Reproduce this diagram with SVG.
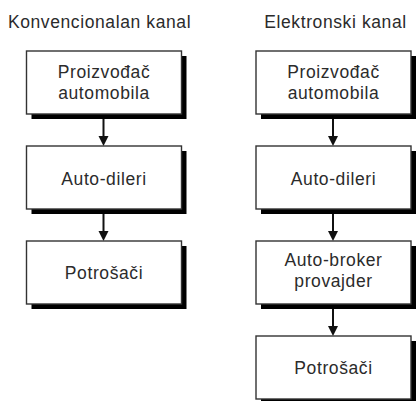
<svg xmlns="http://www.w3.org/2000/svg" width="416" height="401" viewBox="0 0 416 401">
<defs>
<style>
.shadow{fill:#000}
.box{fill:#fff;stroke:#333;stroke-width:1.4}
.lbl{font-family:"Liberation Sans",Arial,sans-serif;font-size:17.5px;fill:#2b2b2b;text-anchor:middle;letter-spacing:0.6px}
.conn{stroke:#111;stroke-width:2;fill:none}
.head{fill:#111}
</style>
</defs>
<rect width="416" height="401" fill="#fff"/>
<text class="lbl" x="99.5" y="28">Konvencionalan kanal</text>
<text class="lbl" x="335.5" y="28">Elektronski kanal</text>

<g id="connectors">
<line class="conn" x1="103.5" y1="115" x2="103.5" y2="136"/>
<polygon class="head" points="98.5,136 108.5,136 103.5,146"/>
<line class="conn" x1="103.5" y1="210" x2="103.5" y2="231"/>
<polygon class="head" points="98.5,231 108.5,231 103.5,241"/>
<line class="conn" x1="333" y1="115" x2="333" y2="136"/>
<polygon class="head" points="328,136 338,136 333,146"/>
<line class="conn" x1="333" y1="210" x2="333" y2="231"/>
<polygon class="head" points="328,231 338,231 333,241"/>
<line class="conn" x1="333" y1="305" x2="333" y2="326"/>
<polygon class="head" points="328,326 338,326 333,336"/>
</g>

<g id="l1">
<rect class="shadow" x="31.5" y="56" width="155" height="63"/>
<rect class="box" x="26.5" y="51" width="155" height="63"/>
<text class="lbl" x="104" y="78.3">Proizvođač</text>
<text class="lbl" x="104" y="99">automobila</text>
</g>
<g id="l2">
<rect class="shadow" x="31.5" y="151" width="155" height="63"/>
<rect class="box" x="26.5" y="146" width="155" height="63"/>
<text class="lbl" x="104" y="184.5">Auto-dileri</text>
</g>
<g id="l3">
<rect class="shadow" x="31.5" y="246" width="155" height="63"/>
<rect class="box" x="26.5" y="241" width="155" height="63"/>
<text class="lbl" x="104" y="279">Potrošači</text>
</g>

<g id="r1">
<rect class="shadow" x="261" y="56" width="155" height="63"/>
<rect class="box" x="256" y="51" width="155" height="63"/>
<text class="lbl" x="333.5" y="78.3">Proizvođač</text>
<text class="lbl" x="333.5" y="99">automobila</text>
</g>
<g id="r2">
<rect class="shadow" x="261" y="151" width="155" height="63"/>
<rect class="box" x="256" y="146" width="155" height="63"/>
<text class="lbl" x="333.5" y="184.5">Auto-dileri</text>
</g>
<g id="r3">
<rect class="shadow" x="261" y="246" width="155" height="63"/>
<rect class="box" x="256" y="241" width="155" height="63"/>
<text class="lbl" x="333.5" y="266">Auto-broker</text>
<text class="lbl" x="333.5" y="287.3">provajder</text>
</g>
<g id="r4">
<rect class="shadow" x="261" y="341" width="155" height="63"/>
<rect class="box" x="256" y="336" width="155" height="63"/>
<text class="lbl" x="333.5" y="374">Potrošači</text>
</g>
</svg>
